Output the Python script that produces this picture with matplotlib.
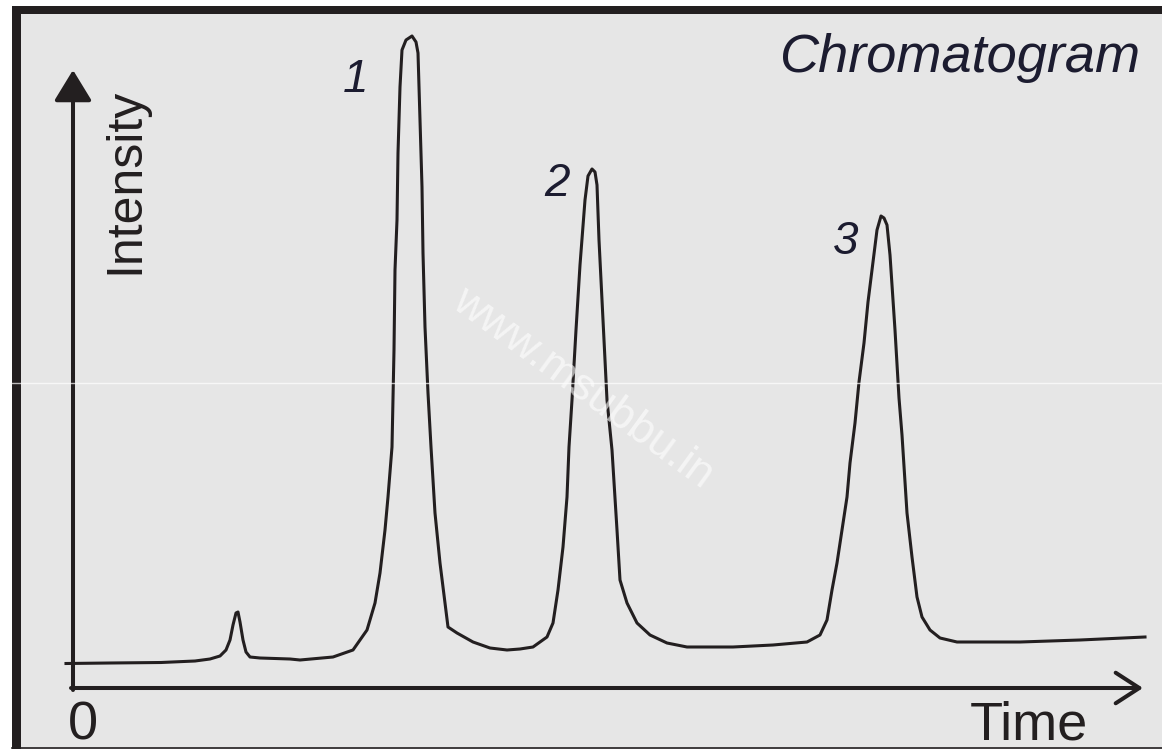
#Chromatogram sketch
import matplotlib
matplotlib.use('Agg')
import matplotlib.pyplot as plt
from matplotlib.patches import Rectangle
from matplotlib.lines import Line2D

#detector trace (time and intensity in arbitrary units)
time = [-7, 37, 88, 122, 137, 147, 153, 157, 160, 163, 165, 167, 170, 173, 177, 187,
        217, 227, 260, 280, 294, 302, 307, 312, 315, 319, 321, 322, 324, 325, 327, 329,
        333, 339, 343, 345, 347, 349, 350, 352, 355, 358, 360, 362, 367, 372, 375, 384,
        400, 417, 434, 447, 460, 474, 480, 485, 490, 494, 496, 499, 503, 507, 512, 515,
        519, 522, 524, 526, 530, 534, 539, 544, 547, 554, 564, 577, 594, 614, 660, 700,
        734, 747, 754, 759, 764, 769, 774, 777, 782, 786, 791, 795, 800, 804, 808, 811,
        814, 817, 822, 826, 829, 834, 839, 844, 849, 857, 867, 884, 947, 1007, 1072]
intensity = [24.5, 25, 25.5, 27, 29, 32, 38, 48, 63, 75, 76, 66, 48, 36, 31, 30,
             29, 28, 31, 38, 58, 85, 115, 158, 191, 241, 338, 418, 468, 535, 601, 638,
             648, 652, 646, 635, 568, 501, 435, 361, 295, 241, 208, 175, 125, 85, 61, 55,
             46, 40, 38, 39, 41, 51, 65, 98, 141, 191, 241, 288, 358, 423, 488, 512,
             519, 516, 503, 448, 368, 288, 238, 158, 108, 85, 65, 53, 45, 41, 41, 43,
             46, 53, 68, 98, 125, 158, 191, 225, 265, 306, 345, 386, 426, 458, 472, 470,
             463, 433, 358, 290, 253, 175, 131, 91, 71, 58, 50, 46, 46, 48, 51]

#peak labels
peak_names = ['1', '2', '3']
peak_label_t = [283, 484, 773]
peak_label_i = [608, 504, 446]

ink = '#231f20'
bg = '#e6e6e6'

fig = plt.figure(figsize=(11.62, 7.49), dpi=100)
fig.patch.set_facecolor('white')
W, H = 1162.0, 749.0

#panel and its dark frame (pixel values turned into figure fractions)
fig.add_artist(Rectangle((12 / W, 0), 1 - 12 / W, 1 - 6 / H, transform=fig.transFigure,
                         facecolor=bg, edgecolor='none', zorder=0))
fig.add_artist(Rectangle((12 / W, 1 - 14 / H), 1 - 12 / W, 8 / H, transform=fig.transFigure,
                         facecolor=ink, edgecolor='none', zorder=1))
fig.add_artist(Rectangle((12 / W, 0), 9 / W, 1 - 6 / H, transform=fig.transFigure,
                         facecolor=ink, edgecolor='none', zorder=1))
fig.add_artist(Line2D([12 / W, 1], [1 / H, 1 / H], transform=fig.transFigure,
                      color=ink, lw=1.2, zorder=1))
#faint scan line
fig.add_artist(Line2D([12 / W, 1], [1 - 383 / H, 1 - 383 / H], transform=fig.transFigure,
                      color='white', lw=1, alpha=0.7, zorder=1))

ax = fig.add_axes([0, 0, 1, 1])
ax.set_xlim(-73, 1089)
ax.set_ylim(-61, 688)
ax.axis('off')
ax.patch.set_visible(False)

#axes with arrows
ax.annotate('', xy=(0, 618), xytext=(0, -2),
            arrowprops=dict(arrowstyle='-|>,head_length=0.95,head_width=0.58', color=ink,
                            lw=2.9, mutation_scale=20, shrinkA=0, shrinkB=0))
ax.annotate('', xy=(1070, 0), xytext=(-2, 0),
            arrowprops=dict(arrowstyle='->,head_length=0.85,head_width=0.55', color=ink,
                            lw=2.9, mutation_scale=20, shrinkA=0, shrinkB=0))

#the trace
ax.plot(time, intensity, color=ink, lw=2.2, solid_joinstyle='round', zorder=3)

font = 'Liberation Sans'
ax.text(52, 507, 'Intensity', rotation=90, ha='center', va='center',
        fontsize=36, family=font, color=ink)
ax.text(897, -52, 'Time', ha='left', va='baseline', fontsize=39, family=font, color=ink)
ax.text(10, -52, '0', ha='center', va='baseline', fontsize=39, family=font, color=ink)
ax.text(1067, 616, 'Chromatogram', ha='right', va='baseline', fontsize=39,
        family=font, style='italic', color='#1c1c30')
for name, t, i in zip(peak_names, peak_label_t, peak_label_i):
    ax.text(t, i, name, ha='center', va='center', fontsize=33, family=font,
            style='italic', color='#1c1c30')

#watermark
ax.text(510, 300, 'www.msubbu.in', rotation=-36, ha='center', va='center',
        fontsize=32, family=font, color='white', alpha=0.6, zorder=4)

plt.savefig('out.png', dpi=100)
